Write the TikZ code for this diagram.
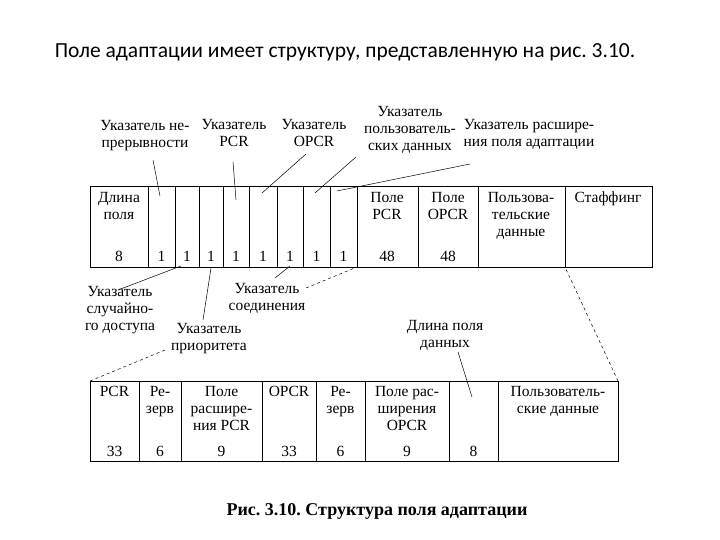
\documentclass[tikz,border=0pt]{standalone}
\usepackage{fontspec}
\setmainfont{Liberation Serif}
\newfontfamily\titlefont{Carlito}
\frenchspacing
\begin{document}
\begin{tikzpicture}[x=1pt,y=-1pt,
  lab/.style={font=\fontsize{15.5}{17}\selectfont,align=center,inner sep=0pt},
  cell/.style={draw,line width=0.8pt},
  ptr/.style={line width=0.5pt},
  dsh/.style={line width=0.5pt,dashed}]
\useasboundingbox (0,0) rectangle (720,540);
\node[font=\titlefont\fontsize{21.5}{24}\selectfont] (title) at (345,52) {Поле адаптации имеет структуру, представленную на рис. 3.10.};
% top row
\def\ya{186}\def\yb{267}
\foreach \xa/\xb [count=\i] in {90/148,148/175,175/199,199/223,223/249,249/277,277/303,303/330,330/357,357/418,418/478,478/565,565/652}
  \draw[cell] (\xa,\ya) rectangle (\xb,\yb) coordinate (t\i);
\node[lab,anchor=north] (c1) at (119,192) {Длина\\поля};
\node[lab] (n1) at (119,256) {8};
\foreach \x [count=\i] in {161.5,187,211,236,263,290,316.5,343.5} \node[lab] (nb\i) at (\x,256) {1};
\node[lab,anchor=north] (c10) at (387,192) {Поле\\PCR};
\node[lab] (n10) at (387,256) {48};
\node[lab,anchor=north] (c11) at (448,192) {Поле\\OPCR};
\node[lab] (n11) at (448,256) {48};
\node[lab,anchor=north] (c12) at (521,192) {Пользова-\\тельские\\данные};
\node[lab,anchor=north] (c13) at (608,192) {Стаффинг};
% top labels
\node[lab] (l1) at (145,136) {Указатель не-\\прерывности};
\node[lab] (l2) at (234,133) {Указатель\\PCR};
\node[lab] (l3) at (314,133) {Указатель\\OPCR};
\node[lab] (l4) at (410,130) {Указатель\\пользователь-\\ских данных};
\node[lab] (l5) at (529,134) {Указатель расшире-\\ния поля адаптации};
\coordinate (a1) at (153,160); \coordinate (b1) at (160,196);
\coordinate (a2) at (233,162); \coordinate (b2) at (236,200);
\coordinate (a3) at (306,154); \coordinate (b3) at (262,193);
\coordinate (a4) at (356,157); \coordinate (b4) at (315,193);
\coordinate (a5) at (470,164); \coordinate (b5) at (337,191);
\foreach \i in {1,...,5} \draw[ptr] (a\i) -- (b\i);
% bottom labels
\node[lab] (l6) at (120,310) {Указатель\\случайно-\\го доступа};
\node[lab] (l7) at (209,339) {Указатель\\приоритета};
\node[lab] (l8) at (267,298) {Указатель\\соединения};
\node[lab] (l9) at (445,335) {Длина поля\\данных};
\coordinate (a6) at (118,290); \coordinate (b6) at (181,266);
\coordinate (a7) at (203,320); \coordinate (b7) at (211,268);
\coordinate (a8) at (275,278); \coordinate (b8) at (290,266);
\coordinate (a9) at (458,352); \coordinate (b9) at (472,397);
\foreach \i in {6,...,9} \draw[ptr] (a\i) -- (b\i);
\coordinate (d1) at (306,288); \coordinate (e1) at (357,267);
\draw[dsh] (d1) -- (e1);
% bottom row
\def\yc{381}\def\yd{461}
\foreach \xa/\xb [count=\i] in {90/139,139/181,181/262,262/316,316/365,365/449,449/498,498/618}
  \draw[cell] (\xa,\yc) rectangle (\xb,\yd) coordinate (u\i);
\coordinate (d2) at (90,381); \coordinate (e2) at (165,350);
\coordinate (d3) at (618,381); \coordinate (e3) at (565,267);
\draw[dsh] (d2) -- (e2);
\draw[dsh] (d3) -- (e3);
\node[lab,anchor=north] (p1) at (114.5,386) {PCR};
\node[lab,anchor=north] (p2) at (160,386) {Ре-\\зерв};
\node[lab,anchor=north] (p3) at (221.5,386) {Поле\\расшире-\\ния PCR};
\node[lab,anchor=north] (p4) at (289,386) {OPCR};
\node[lab,anchor=north] (p5) at (340.5,386) {Ре-\\зерв};
\node[lab,anchor=north] (p6) at (407,386) {Поле рас-\\ширения\\OPCR};
\node[lab,anchor=north] (p8) at (558,386) {Пользователь-\\ские данные};
\node[lab] (q1) at (114.5,451) {33};
\node[lab] (q2) at (160,451) {6};
\node[lab] (q3) at (221.5,451) {9};
\node[lab] (q4) at (289,451) {33};
\node[lab] (q5) at (340.5,451) {6};
\node[lab] (q6) at (407,451) {9};
\node[lab] (q7) at (473.5,451) {8};
\node[font=\bfseries\fontsize{18}{20}\selectfont] (cap) at (377,511) {Рис. 3.10. Структура поля адаптации};
\end{tikzpicture}
\end{document}
